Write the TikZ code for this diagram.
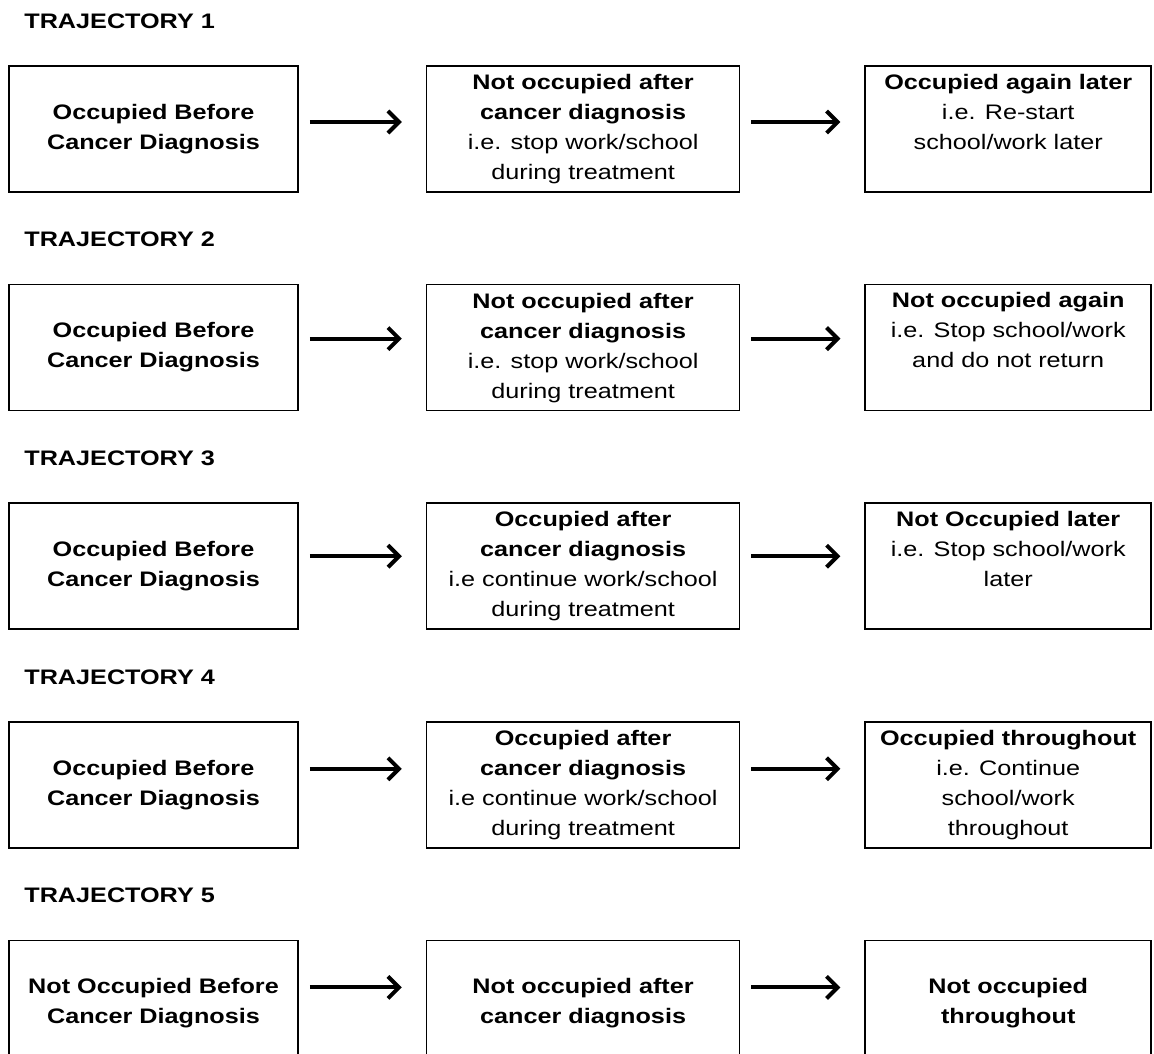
\documentclass[tikz,border=0pt]{standalone}
\usepackage{fontspec}
\setmainfont{Liberation Sans}[FakeStretch=1.2]
\usetikzlibrary{positioning, arrows.meta}

\begin{document}
\begin{tikzpicture}[
		x=1pt, y=-1pt,
		box/.style={rectangle, draw, line width=1.6pt, inner sep=0pt, minimum height=126pt, font=\fontsize{21}{30}\selectfont},
		stage/.style={box, align=center},
		start/.style={stage, minimum width=289pt},
		mid/.style={stage, minimum width=313pt},
		outcome/.style={stage, minimum width=286pt},
		later/.style={box, minimum width=286pt, execute at begin node={\begin{minipage}[c][110pt][t]{280pt}\centering}, execute at end node={\end{minipage}}},
		trajtitle/.style={inner sep=0pt, font=\fontsize{21}{25}\selectfont\bfseries},
		flow/.style={-{Straight Barb[length=11pt, width=22pt]}, line width=4pt, shorten <=11pt, shorten >=24pt}
	]
	\useasboundingbox (0,0) rectangle (1154,1053);

	% trajectory 1
	\node[start] (a1) at (153.5,129) {\textbf{Occupied Before}\\ \textbf{Cancer Diagnosis}};
	\node[mid, right=127pt of a1] (b1) {\textbf{Not occupied after}\\ \textbf{cancer diagnosis}\\ i.e. stop work/school\\ during treatment};
	\node[later, right=124pt of b1] (c1) {\textbf{Occupied again later}\\ i.e. Re-start\\ school/work later};
	\node[trajtitle, above right=36.5pt and 16pt of a1.north west] (t1) {TRAJECTORY 1};

	% trajectory 2
	\node[start, below=91pt of a1] (a2) {\textbf{Occupied Before}\\ \textbf{Cancer Diagnosis}};
	\node[mid, right=127pt of a2] (b2) {\textbf{Not occupied after}\\ \textbf{cancer diagnosis}\\ i.e. stop work/school\\ during treatment};
	\node[later, right=124pt of b2] (c2) {\textbf{Not occupied again}\\ i.e. Stop school/work\\ and do not return};
	\node[trajtitle, above right=36.5pt and 16pt of a2.north west] (t2) {TRAJECTORY 2};

	% trajectory 3
	\node[start, below=91pt of a2] (a3) {\textbf{Occupied Before}\\ \textbf{Cancer Diagnosis}};
	\node[mid, right=127pt of a3] (b3) {\textbf{Occupied after}\\ \textbf{cancer diagnosis}\\ i.e continue work/school\\ during treatment};
	\node[later, right=124pt of b3] (c3) {\textbf{Not Occupied later}\\ i.e. Stop school/work\\ later};
	\node[trajtitle, above right=36.5pt and 16pt of a3.north west] (t3) {TRAJECTORY 3};

	% trajectory 4
	\node[start, below=91pt of a3] (a4) {\textbf{Occupied Before}\\ \textbf{Cancer Diagnosis}};
	\node[mid, right=127pt of a4] (b4) {\textbf{Occupied after}\\ \textbf{cancer diagnosis}\\ i.e continue work/school\\ during treatment};
	\node[outcome, right=124pt of b4] (c4) {\textbf{Occupied throughout}\\ i.e. Continue\\ school/work\\ throughout};
	\node[trajtitle, above right=36.5pt and 16pt of a4.north west] (t4) {TRAJECTORY 4};

	% trajectory 5
	\node[start, below=91pt of a4] (a5) {\textbf{Not Occupied Before}\\ \textbf{Cancer Diagnosis}};
	\node[mid, right=127pt of a5] (b5) {\textbf{Not occupied after}\\ \textbf{cancer diagnosis}};
	\node[outcome, right=124pt of b5] (c5) {\textbf{Not occupied}\\ \textbf{throughout}};
	\node[trajtitle, above right=36.5pt and 16pt of a5.north west] (t5) {TRAJECTORY 5};

	\foreach \r/\dy in {1/7, 2/9, 3/10, 4/16, 5/16} {
		\draw[flow] ([yshift=\dy pt]a\r.east) -- ([yshift=\dy pt]b\r.west);
		\draw[flow] ([yshift=\dy pt]b\r.east) -- ([yshift=\dy pt]c\r.west);
	}

\end{tikzpicture}
\end{document}
